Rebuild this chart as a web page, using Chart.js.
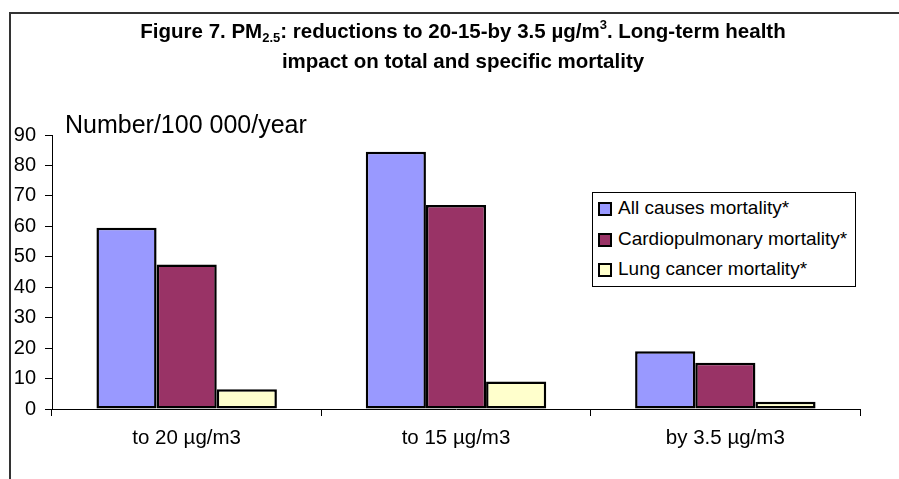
<!DOCTYPE html>
<html>
<head>
<meta charset="utf-8">
<title>PM2.5 mortality</title>
<script src="https://cdn.jsdelivr.net/npm/chart.js@4.4.0/dist/chart.umd.min.js"></script>
<style>
  html, body { margin: 0; padding: 0; background: #fff; overflow: hidden; }
  body { width: 899px; height: 479px; position: relative; font-family: "Liberation Sans", Arial, sans-serif; color: #000; }
  #frame { position: absolute; left: 9px; top: 12px; width: 1000px; height: 600px; border-left: 2px solid #333; border-top: 2px solid #333; }
  #chart { position: absolute; left: 0; top: 0; }
  #title { position: absolute; left: 0; top: 16px; width: 926px; text-align: center; font-weight: bold; font-size: 20.5px; line-height: 30px; }
  #title sub, #title sup { font-size: 13px; line-height: 0; position: relative; vertical-align: baseline; }
  #title sub { top: 4px; }
  #title sup { top: -9px; }
  #unit { position: absolute; left: 65px; top: 112px; font-size: 25px; line-height: 25px; white-space: nowrap; }
  #legend { position: absolute; left: 592px; top: 192px; width: 262px; height: 93px; border: 1px solid #000; background: #fff; font-size: 19px; }
  #legend .item { height: 30.5px; line-height: 30.5px; white-space: nowrap; position: relative; padding-left: 25px; }
  #legend .sw { position: absolute; left: 5px; top: 9px; width: 10px; height: 10px; border: 2px solid #000; }
</style>
</head>
<body>
<div id="frame"></div>
<canvas id="chart" width="899" height="479"></canvas>
<div id="title">Figure 7. PM<sub>2.5</sub>: reductions to 20-15-by 3.5 µg/m<sup>3</sup>. Long-term health<br>impact on total and specific mortality</div>
<div id="unit">Number/100 000/year</div>
<div id="legend"></div>
<script>
const categories = ["to 20 µg/m3", "to 15 µg/m3", "by 3.5 µg/m3"];
const seriesNames = ["All causes mortality*", "Cardiopulmonary mortality*", "Lung cancer mortality*"];
const allCauses = [59.5, 84.5, 19];
const cardiopulmonary = [47.5, 67, 15.2];
const lungCancer = [6.5, 9, 2.4];
const yTicks = [0, 10, 20, 30, 40, 50, 60, 70, 80, 90];

const barColors = ["#9999ff", "#993366", "#ffffcc"];
const seriesValues = [allCauses, cardiopulmonary, lungCancer];

Chart.defaults.font.family = '"Liberation Sans", Arial, sans-serif';
Chart.defaults.color = "#000";

// legend box drawn as html, built from the same series lists
const legendBox = document.getElementById("legend");
seriesNames.forEach((name, i) => {
  const item = document.createElement("div");
  item.className = "item";
  const sw = document.createElement("span");
  sw.className = "sw";
  sw.style.background = barColors[i];
  item.appendChild(sw);
  item.appendChild(document.createTextNode(name));
  legendBox.appendChild(item);
});

const ctx = document.getElementById("chart").getContext("2d");

new Chart(ctx, {
  type: "bar",
  data: {
    labels: categories,
    datasets: seriesNames.map((name, i) => ({
      label: name,
      data: seriesValues[i],
      backgroundColor: barColors[i],
      borderColor: "#000",
      borderWidth: 2.5,
      borderSkipped: false,
      categoryPercentage: 0.67,
      barPercentage: 1,
    })),
  },
  options: {
    responsive: false,
    animation: false,
    layout: { padding: { left: 0, top: 135, right: 39, bottom: 0 } },
    plugins: {
      legend: { display: false },
      tooltip: { enabled: false },
    },
    scales: {
      x: {
        grid: { offset: true, drawOnChartArea: false, tickLength: 7, color: "#000" },
        border: { color: "#000", width: 1 },
        ticks: { font: { size: 20.5 }, padding: 10, maxRotation: 0 },
        afterFit: (scale) => { scale.height = 70; },
      },
      y: {
        min: 0,
        max: 90,
        grid: { drawOnChartArea: false, tickLength: 7, color: "#000" },
        border: { color: "#000", width: 1 },
        ticks: {
          stepSize: 10,
          font: { size: 20 },
          padding: 9,
          callback: (value) => (yTicks.includes(value) ? value : ""),
        },
        afterFit: (scale) => { scale.width = 52; },
      },
    },
  },
});
</script>
</body>
</html>
